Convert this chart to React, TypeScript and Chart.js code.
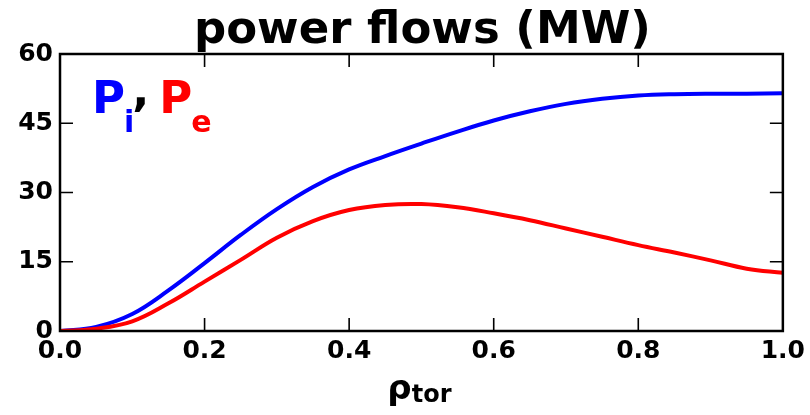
import React, { useEffect, useRef } from "react";
import { Chart, registerables } from "chart.js";

Chart.register(...registerables);

// Normalised toroidal radius
const rhoTor = [0, 0.05, 0.1, 0.15, 0.2, 0.25, 0.3, 0.35, 0.4, 0.45, 0.5, 0.55, 0.6, 0.65, 0.7, 0.75, 0.8, 0.85, 0.9, 0.95, 1.0];
// Ion power flow P_i (MW)
const powerIon = [0, 0.9, 3.7, 8.8, 14.7, 20.8, 26.4, 31.2, 35.0, 37.9, 40.6, 43.2, 45.6, 47.6, 49.2, 50.3, 51.0, 51.3, 51.4, 51.4, 51.5];
// Electron power flow P_e (MW)
const powerElectron = [0, 0.5, 2.1, 6.0, 10.7, 15.4, 20.2, 23.8, 26.2, 27.3, 27.5, 26.8, 25.5, 24.0, 22.2, 20.4, 18.6, 17.0, 15.3, 13.5, 12.6];

const yTicks = [0, 15, 30, 45, 60];
const xTicks = [0, 0.2, 0.4, 0.6, 0.8, 1.0];

const titleText = "power flows (MW)";
const FONT = "'DejaVu Sans', 'Liberation Sans', sans-serif";

const framePlugin = {
  id: "frameAndText",
  afterDraw(chart: any) {
    const { ctx, chartArea } = chart;
    const { left, right, top, bottom } = chartArea;
    const xs = chart.scales.x;
    const ys = chart.scales.y;
    ctx.save();

    // frame around plot area
    ctx.strokeStyle = "#000";
    ctx.lineWidth = 2.5;
    ctx.strokeRect(left, top, right - left, bottom - top);

    // inward tick marks on all four sides
    ctx.lineWidth = 1.6;
    const tl = 13;
    ctx.beginPath();
    yTicks.forEach((v) => {
      const py = ys.getPixelForValue(v);
      ctx.moveTo(left, py);
      ctx.lineTo(left + tl, py);
      ctx.moveTo(right, py);
      ctx.lineTo(right - tl, py);
    });
    xTicks.forEach((v) => {
      const px = xs.getPixelForValue(v);
      ctx.moveTo(px, bottom);
      ctx.lineTo(px, bottom - tl);
      ctx.moveTo(px, top);
      ctx.lineTo(px, top + tl);
    });
    ctx.stroke();

    const cx = (left + right) / 2;

    // title
    ctx.fillStyle = "#000";
    ctx.textAlign = "center";
    ctx.textBaseline = "alphabetic";
    ctx.font = `bold 45px ${FONT}`;
    ctx.fillText(titleText, cx + 1, 43);

    // series labels: P_i, P_e
    ctx.textAlign = "left";
    let x = left + 32;
    const base = 113;
    const subBase = 132;
    ctx.font = `bold 45px ${FONT}`;
    ctx.fillStyle = "#0000ff";
    ctx.fillText("P", x, base);
    x += ctx.measureText("P").width - 1;
    ctx.font = `bold 30px ${FONT}`;
    ctx.fillText("i", x, subBase);
    x += ctx.measureText("i").width;
    ctx.font = `bold 45px ${FONT}`;
    ctx.fillStyle = "#000";
    ctx.fillText(",", x - 2, base - 7);
    x += ctx.measureText(",").width + 8;
    ctx.fillStyle = "#ff0000";
    ctx.fillText("P", x, base);
    x += ctx.measureText("P").width - 1;
    ctx.font = `bold 30px ${FONT}`;
    ctx.fillText("e", x, subBase);

    // x axis label: rho_tor
    ctx.fillStyle = "#000";
    ctx.font = `bold 34px ${FONT}`;
    const wRho = ctx.measureText("ρ").width;
    ctx.font = `bold 24px ${FONT}`;
    const wSub = ctx.measureText("tor").width;
    let lx = cx - 2 - (wRho + wSub) / 2;
    ctx.font = `bold 34px ${FONT}`;
    ctx.fillText("ρ", lx, 399);
    lx += wRho;
    ctx.font = `bold 24px ${FONT}`;
    ctx.fillText("tor", lx, 402);

    ctx.restore();
  },
};

export default function App() {
  const canvasRef = useRef<HTMLCanvasElement | null>(null);

  useEffect(() => {
    const canvas = canvasRef.current;
    if (!canvas) return;
    const tickFont = { family: FONT, size: 25, weight: "bold" as const, lineHeight: 1.2 };
    const chart = new Chart(canvas, {
      type: "line",
      data: {
        datasets: [
          {
            label: "P_e",
            data: rhoTor.map((r, i) => ({ x: r, y: powerElectron[i] })),
            borderColor: "#ff0000",
            borderWidth: 4,
            pointRadius: 0,
            tension: 0.4,
            fill: false,
          },
          {
            label: "P_i",
            data: rhoTor.map((r, i) => ({ x: r, y: powerIon[i] })),
            borderColor: "#0000ff",
            borderWidth: 4,
            pointRadius: 0,
            tension: 0.4,
            fill: false,
          },
        ],
      },
      options: {
        responsive: false,
        animation: false,
        devicePixelRatio: 1,
        layout: { padding: { top: 54, right: 25, left: 0, bottom: 0 } },
        plugins: {
          legend: { display: false },
          title: { display: false },
          tooltip: { enabled: false },
        },
        scales: {
          x: {
            type: "linear",
            min: 0,
            max: 1,
            border: { display: false },
            grid: { display: false, drawTicks: false },
            afterFit: (s: any) => {
              s.height = 84;
            },
            afterBuildTicks: (s: any) => {
              s.ticks = xTicks.map((v) => ({ value: v }));
            },
            ticks: {
              color: "#000",
              font: tickFont,
              padding: 5,
              maxRotation: 0,
              autoSkip: false,
              callback: (v: any) => Number(v).toFixed(1),
            },
          },
          y: {
            type: "linear",
            min: 0,
            max: 60,
            border: { display: false },
            grid: { display: false, drawTicks: false },
            afterFit: (s: any) => {
              s.width = 60;
            },
            afterBuildTicks: (s: any) => {
              s.ticks = yTicks.map((v) => ({ value: v }));
            },
            ticks: {
              color: "#000",
              font: tickFont,
              padding: 7,
              autoSkip: false,
              callback: (v: any) => String(v),
            },
          },
        },
      },
      plugins: [framePlugin],
    });
    return () => chart.destroy();
  }, []);

  return (
    <div style={{ position: "absolute", left: 0, top: 0, width: 810, height: 415, background: "#fff" }}>
      <canvas ref={canvasRef} width={810} height={415} style={{ display: "block" }} />
    </div>
  );
}
